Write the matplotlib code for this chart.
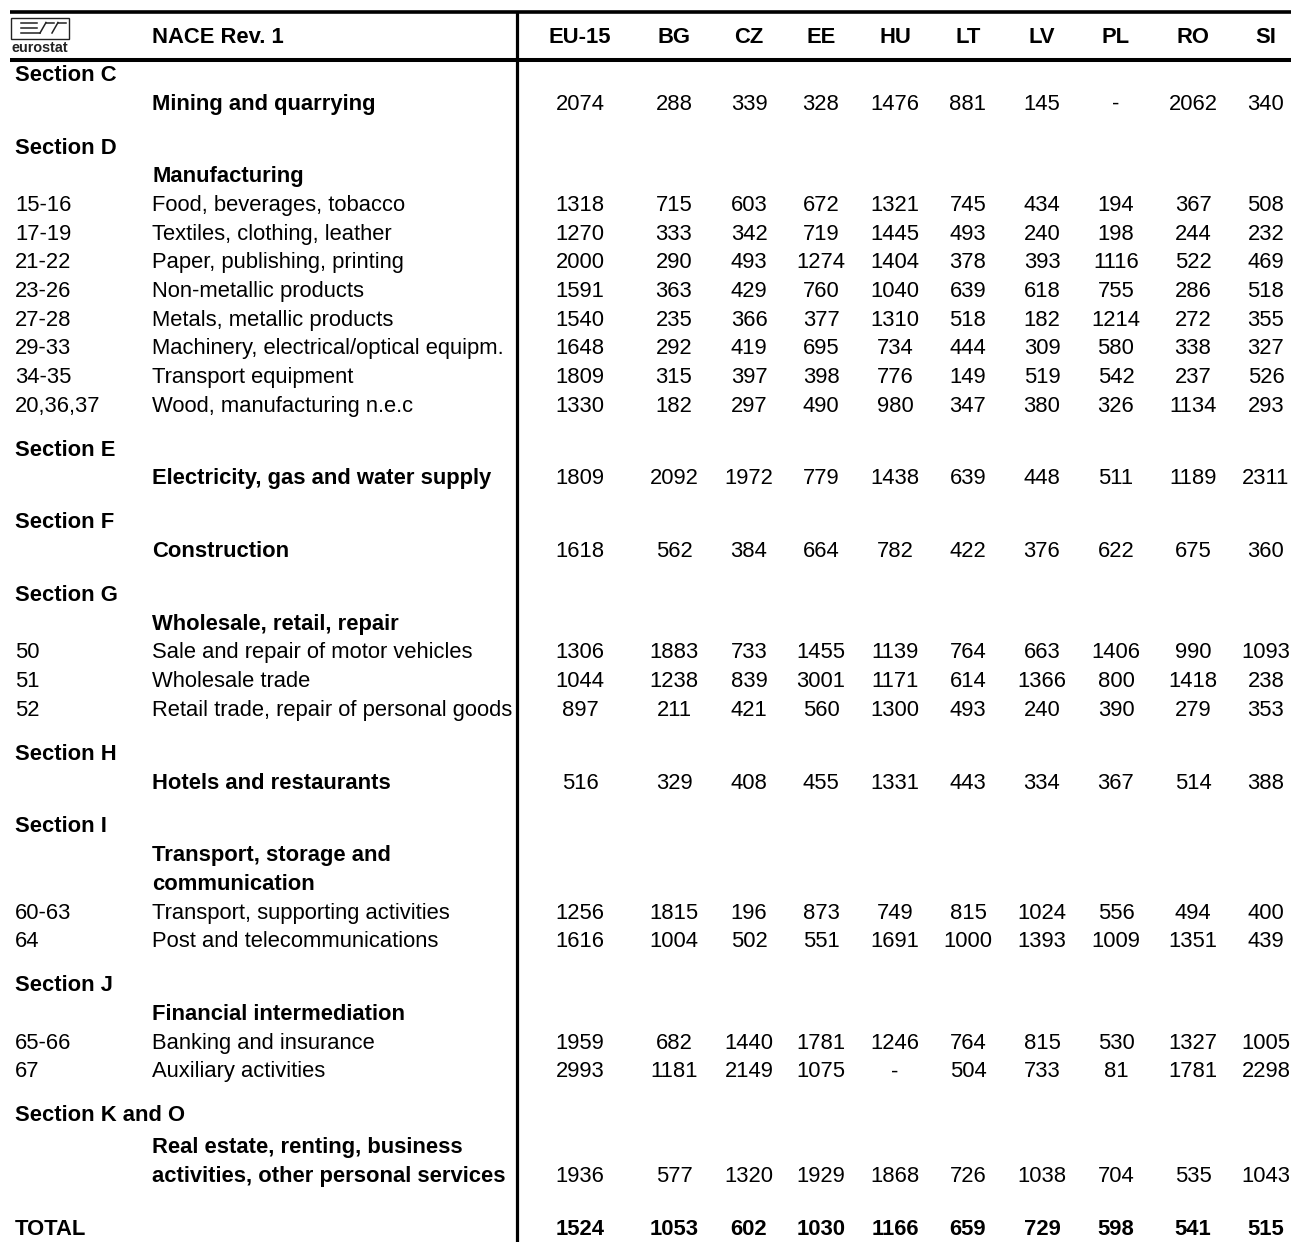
import matplotlib
matplotlib.use("Agg")
import matplotlib.pyplot as plt

plt.rcParams['font.family'] = ['Liberation Sans', 'DejaVu Sans']

countries = ["EU-15", "BG", "CZ", "EE", "HU", "LT", "LV", "PL", "RO", "SI"]
header_label = "NACE Rev. 1"

# values: None = "-"
mining = [2074, 288, 339, 328, 1476, 881, 145, None, 2062, 340]
manuf_codes = ["15-16", "17-19", "21-22", "23-26", "27-28", "29-33", "34-35", "20,36,37"]
manuf_labels = ["Food, beverages, tobacco", "Textiles, clothing, leather",
                "Paper, publishing, printing", "Non-metallic products",
                "Metals, metallic products", "Machinery, electrical/optical equipm.",
                "Transport equipment", "Wood, manufacturing n.e.c"]
manuf_values = [
    [1318, 715, 603, 672, 1321, 745, 434, 194, 367, 508],
    [1270, 333, 342, 719, 1445, 493, 240, 198, 244, 232],
    [2000, 290, 493, 1274, 1404, 378, 393, 1116, 522, 469],
    [1591, 363, 429, 760, 1040, 639, 618, 755, 286, 518],
    [1540, 235, 366, 377, 1310, 518, 182, 1214, 272, 355],
    [1648, 292, 419, 695, 734, 444, 309, 580, 338, 327],
    [1809, 315, 397, 398, 776, 149, 519, 542, 237, 526],
    [1330, 182, 297, 490, 980, 347, 380, 326, 1134, 293],
]
electricity = [1809, 2092, 1972, 779, 1438, 639, 448, 511, 1189, 2311]
construction = [1618, 562, 384, 664, 782, 422, 376, 622, 675, 360]
trade_codes = ["50", "51", "52"]
trade_labels = ["Sale and repair of motor vehicles", "Wholesale trade",
                "Retail trade, repair of personal goods"]
trade_values = [
    [1306, 1883, 733, 1455, 1139, 764, 663, 1406, 990, 1093],
    [1044, 1238, 839, 3001, 1171, 614, 1366, 800, 1418, 238],
    [897, 211, 421, 560, 1300, 493, 240, 390, 279, 353],
]
hotels = [516, 329, 408, 455, 1331, 443, 334, 367, 514, 388]
transport_codes = ["60-63", "64"]
transport_labels = ["Transport, supporting activities", "Post and telecommunications"]
transport_values = [
    [1256, 1815, 196, 873, 749, 815, 1024, 556, 494, 400],
    [1616, 1004, 502, 551, 1691, 1000, 1393, 1009, 1351, 439],
]
fin_codes = ["65-66", "67"]
fin_labels = ["Banking and insurance", "Auxiliary activities"]
fin_values = [
    [1959, 682, 1440, 1781, 1246, 764, 815, 530, 1327, 1005],
    [2993, 1181, 2149, 1075, None, 504, 733, 81, 1781, 2298],
]
real_estate = [1936, 577, 1320, 1929, 1868, 726, 1038, 704, 535, 1043]
total = [1524, 1053, 602, 1030, 1166, 659, 729, 598, 541, 515]

# ---- build row list
rows = []
def section(name):
    rows.append(("gap",))
    rows.append(("section", name))
def heading(label, values=None):
    rows.append(("item", "", label, values, True))
def item(code, label, values):
    rows.append(("item", code, label, values, False))

section("Section C")
heading("Mining and quarrying", mining)
section("Section D")
heading("Manufacturing")
for c, l, v in zip(manuf_codes, manuf_labels, manuf_values):
    item(c, l, v)
section("Section E")
heading("Electricity, gas and water supply", electricity)
section("Section F")
heading("Construction", construction)
section("Section G")
heading("Wholesale, retail, repair")
for c, l, v in zip(trade_codes, trade_labels, trade_values):
    item(c, l, v)
section("Section H")
heading("Hotels and restaurants", hotels)
section("Section I")
heading("Transport, storage and")
heading("communication")
for c, l, v in zip(transport_codes, transport_labels, transport_values):
    item(c, l, v)
section("Section J")
heading("Financial intermediation")
for c, l, v in zip(fin_codes, fin_labels, fin_values):
    item(c, l, v)
section("Section K and O")
rows.append(("smallgap",))
heading("Real estate, renting, business")
heading("activities, other personal services", real_estate)
rows.append(("biggap",))
rows.append(("total", "TOTAL", total))

W, H = 1291, 1242
fig = plt.figure(figsize=(W / 100, H / 100), dpi=100)
ax = fig.add_axes([0, 0, 1, 1])
ax.set_xlim(0, W)
ax.set_ylim(H, 0)
ax.axis("off")

FS = 15.8
CAP = FS * 100 / 72 * 0.716 / 2   # half cap height in px -> baseline offset
col_x = [580, 674, 749, 821, 895, 968, 1042, 1116, 1193, 1266]
code_x = 15
label_x = 152
step = 28.7
gap = 15.25

def fmt(v):
    return "-" if v is None else str(v)

def put(x, yc, s, ha="left", bold=False):
    ax.text(x, yc + CAP, s, fontsize=FS, va="baseline", ha=ha,
            fontweight="bold" if bold else "normal")

# rules
ax.plot([10, W], [12, 12], color="black", lw=2.6, solid_capstyle="butt")
ax.plot([10, W], [59.5, 59.5], color="black", lw=2.9, solid_capstyle="butt")
ax.plot([517, 517], [12, H], color="black", lw=2.3, solid_capstyle="butt")

# header
put(label_x, 35.5, header_label, bold=True)
for x, c in zip(col_x, countries):
    put(x, 35.5, c, ha="center", bold=True)

# logo
lc = "#222222"
ax.add_patch(plt.Rectangle((11, 17.5), 58, 21.5, fill=False, lw=1.0, ec=lc))
for yy in (22.5, 27.5):
    ax.plot([21, 37], [yy, yy], color=lc, lw=1.1)
ax.plot([21, 40], [33, 33], color=lc, lw=1.1)
ax.plot([40, 46], [33, 22.5], color=lc, lw=1.1)
ax.plot([46, 54], [22.5, 22.5], color=lc, lw=1.1)
ax.plot([52, 58], [33, 22.5], color=lc, lw=1.1)
ax.plot([58, 66], [22.5, 22.5], color=lc, lw=1.1)
ax.text(40, 51.5, "eurostat", fontsize=10.4, fontweight="bold", ha="center",
        va="baseline", color=lc)

y = 73 - step
first = True
for r in rows:
    kind = r[0]
    if kind == "gap":
        if not first:
            y += gap
        continue
    if kind == "smallgap":
        y += 3.25
        continue
    if kind == "biggap":
        y += 24.5
        continue
    y += step
    first = False
    if kind == "section":
        put(code_x, y, r[1], bold=True)
    elif kind == "item":
        _, code, label, values, bold = r
        if code:
            put(code_x, y, code)
        put(label_x, y, label, bold=bold)
        if values is not None:
            for x, v in zip(col_x, values):
                put(x, y, fmt(v), ha="center")
    elif kind == "total":
        put(code_x, y, r[1], bold=True)
        for x, v in zip(col_x, r[2]):
            put(x, y, fmt(v), ha="center", bold=True)

fig.savefig("out.png", dpi=100, facecolor="white")
